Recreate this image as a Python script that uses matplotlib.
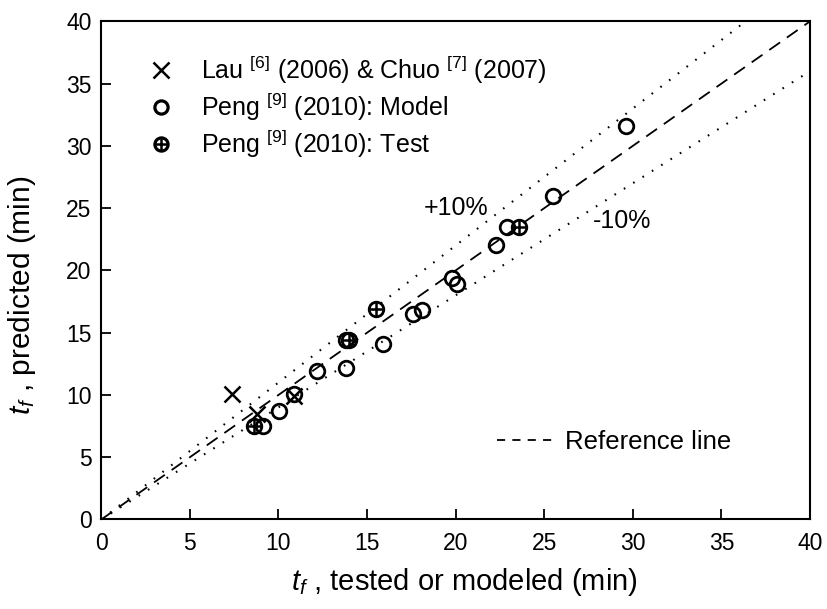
import matplotlib
matplotlib.use("Agg")
import matplotlib.pyplot as plt
from matplotlib.lines import Line2D

plt.rcParams['font.family'] = ['Liberation Sans', 'DejaVu Sans']
plt.rcParams['mathtext.fontset'] = 'custom'
plt.rcParams['mathtext.rm'] = 'Liberation Sans'
plt.rcParams['mathtext.it'] = 'Liberation Sans:italic'

# Data
lau_x = [7.4, 8.8, 10.9]
lau_y = [10.1, 8.5, 9.9]
model_x = [9.1, 10.05, 10.9, 12.2, 13.8, 13.8, 15.9, 17.6, 18.1, 19.8, 20.05, 22.3, 22.9, 25.5, 29.6]
model_y = [7.5, 8.7, 10.1, 11.9, 12.2, 14.4, 14.1, 16.5, 16.85, 19.4, 18.9, 22.0, 23.5, 26.0, 31.6]
test_x = [8.6, 14.0, 15.5, 23.6]
test_y = [7.5, 14.4, 16.9, 23.5]
ref_line = [0, 40]
plus_limit = [0, 40 / 1.1]
minus_limit = [0, 40]

fig = plt.figure(figsize=(8.27, 6.09), dpi=100)
ax = fig.add_axes([0.1225, 0.147, 0.857, 0.818])

ax.plot(ref_line, ref_line, color='black', lw=1.3, dashes=(7.3, 4.6))
ax.plot(plus_limit, [v * 1.1 for v in plus_limit], color='black', lw=1.5, dashes=(0.8, 4.5))
ax.plot(minus_limit, [v * 0.9 for v in minus_limit], color='black', lw=1.5, dashes=(0.8, 4.5))

ms = 10.5
ax.plot(lau_x, lau_y, ls='none', marker='x', ms=11, mew=1.8, color='black')
ax.plot(model_x, model_y, ls='none', marker='o', ms=ms, mew=2.0, mfc='none', color='black')
ax.plot(test_x, test_y, ls='none', marker='o', ms=ms, mew=2.0, mfc='none', color='black')
ax.plot(test_x, test_y, ls='none', marker='+', ms=ms - 0.5, mew=1.8, color='black')

ax.text(20.0, 25.0, '+10%', fontsize=18, ha='center', va='center')
ax.text(29.4, 24.0, '-10%', fontsize=18, ha='center', va='center')

ax.set_xlim(0, 40)
ax.set_ylim(0, 40)
ax.set_xticks(range(0, 41, 5))
ax.set_yticks(range(0, 41, 5))
ax.tick_params(direction='in', length=7, width=1.3, labelsize=16.5)
ax.tick_params(axis='x', pad=9)
ax.tick_params(axis='y', pad=7)
for s in ax.spines.values():
    s.set_linewidth(1.5)

ax.set_xlabel(r'$t_f$ , tested or modeled (min)', fontsize=21)
ax.set_ylabel(r'$t_f$ , predicted (min)', fontsize=21.5)
ax.xaxis.set_label_coords(0.512, -0.093)
ax.yaxis.set_label_coords(-0.09, 0.45)

h1 = Line2D([], [], ls='none', marker='x', ms=11, mew=1.8, color='black')
h2 = Line2D([], [], ls='none', marker='o', ms=9.5, mew=2.3, mfc='none', color='black')
h3a = Line2D([], [], ls='none', marker='o', ms=9.5, mew=2.3, mfc='none', color='black')
h3b = Line2D([], [], ls='none', marker='+', ms=8.5, mew=1.8, color='black')
leg1 = ax.legend([h1, h2, (h3a, h3b)],
                 [r'Lau $^{[6]}$ (2006) & Chuo $^{[7]}$ (2007)',
                  r'Peng $^{[9]}$ (2010): Model',
                  r'Peng $^{[9]}$ (2010): Test'],
                 loc='upper left', bbox_to_anchor=(0.066, 0.935), frameon=False,
                 fontsize=18, handlelength=1.0, handletextpad=1.1, labelspacing=0.2,
                 borderaxespad=0, borderpad=0)
ax.add_artist(leg1)

h4 = Line2D([], [], color='black', lw=1.3, dashes=(4.5, 4))
ax.legend([h4], ['Reference line'], loc='center left', bbox_to_anchor=(0.558, 0.155),
          frameon=False, fontsize=18.5, handlelength=2.4, handletextpad=0.27,
          borderaxespad=0, borderpad=0)

fig.savefig('out.png', dpi=100)
